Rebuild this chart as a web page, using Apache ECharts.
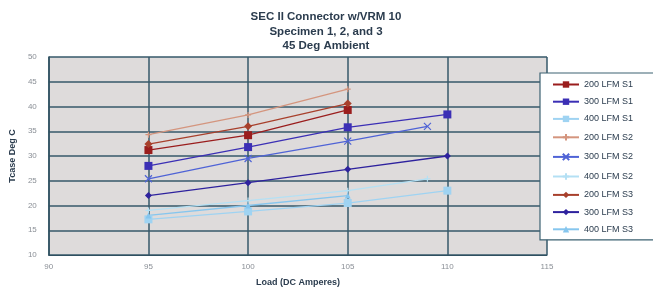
<!DOCTYPE html>
<html>
<head>
<meta charset="utf-8">
<script src="https://cdn.jsdelivr.net/npm/echarts@6/dist/echarts.min.js"></script>
<style>
  html, body { margin: 0; padding: 0; background: #fff; }
  #main { width: 653px; height: 292px; }
</style>
</head>
<body>
<div id="main"></div>
<script>
// titulo y ejes
var titleLines = ['SEC II Connector w/VRM 10', 'Specimen 1, 2, and 3', '45 Deg Ambient'];
var xName = 'Load (DC Amperes)';
var yName = 'Tcase Deg C';

// nombres de series
var seriesNames = [
    '200 LFM S1', '300 LFM S1', '400 LFM S1',
    '200 LFM S2', '300 LFM S2', '400 LFM S2',
    '200 LFM S3', '300 LFM S3', '400 LFM S3'
];

// carga (A)
var load_s1 = [95, 100, 105, 110];
var load_s2 = [95, 100, 105, 109];
var load_s3 = [95, 100, 105, 110];

// temperaturas
var t200_s1 = [31.2, 34.2, 39.3];
var t300_s1 = [28, 31.8, 35.8, 38.4];
var t400_s1 = [17.2, 18.8, 20.5, 23];
var t200_s2 = [34.3, 38.3, 43.5];
var t300_s2 = [25.4, 29.5, 33, 36];
var t400_s2 = [19, 21, 23, 25.4];
var t200_s3 = [32.4, 36, 40.6];
var t300_s3 = [22, 24.6, 27.3, 30];
var t400_s3 = [18, 20, 22];

var plus = 'path://M5,0L5,10M0,5L10,5';
var cross = 'path://M0,0L10,10M10,0L0,10';
var colors = ['#9a1d1d', '#3b2fb5', '#9fd3f2', '#d4957e', '#4f63d6', '#b4e0f4', '#a8402c', '#2e229e', '#86c6ee'];
var symbols = ['rect', 'rect', 'rect', plus, cross, plus, 'diamond', 'diamond', 'triangle'];
var sizes = [8, 8, 8, 6, 7, 6, 8, 7, 6];

function pairs(xs, ys){
    var out = [];
    for (var i = 0; i < ys.length; i++){
        out.push([xs[i], ys[i]]);
    }
    return out;
}

var allData = [
    pairs(load_s1, t200_s1), pairs(load_s1, t300_s1), pairs(load_s1, t400_s1),
    pairs(load_s2, t200_s2), pairs(load_s2, t300_s2), pairs(load_s2, t400_s2),
    pairs(load_s3, t200_s3), pairs(load_s3, t300_s3), pairs(load_s3, t400_s3)
];

var series = [];
seriesNames.forEach(function(name, i){
    var isPath = typeof symbols[i] === 'string' && symbols[i].indexOf('path://') === 0;
    series.push({
        name: name,
        type: 'line',
        data: allData[i],
        symbol: symbols[i],
        symbolSize: sizes[i],
        lineStyle: { color: colors[i], width: 1.3 },
        itemStyle: isPath ? { color: 'none', borderColor: colors[i], borderWidth: 1.2 } : { color: colors[i] },
        z: 3
    });
});

var chart = echarts.init(document.getElementById('main'));
var textColor = '#2b3c4e';
var option = {
    animation: false,
    title: {
        text: titleLines.join('\n'),
        left: 321,
        textAlign: 'center',
        top: 5,
        textStyle: { fontFamily: 'Liberation Sans', fontSize: 11.5, fontWeight: 'bold', color: textColor, lineHeight: 14.5 }
    },
    grid: { left: 41, right: 106, top: 57, bottom: 36, show: true, backgroundColor: '#dedbdb', borderWidth: 0 },
    legend: {
        orient: 'vertical',
        left: 540,
        top: 73,
        itemWidth: 26,
        itemHeight: 8,
        itemGap: 8.2,
        padding: [7, 30, 6, 12],
        backgroundColor: '#ffffff',
        borderColor: '#3d6272',
        borderWidth: 1.2,
        textStyle: { fontFamily: 'Liberation Sans', fontSize: 9, color: textColor },
        data: seriesNames
    },
    xAxis: {
        type: 'value',
        min: 90, max: 115, interval: 5,
        name: xName,
        nameLocation: 'middle',
        nameGap: 23,
        nameTextStyle: { fontFamily: 'Liberation Sans', fontSize: 9, fontWeight: 'bold', color: textColor },
        axisLine: { show: true, lineStyle: { color: '#2f5060' } },
        axisTick: { show: false },
        axisLabel: { fontFamily: 'Liberation Sans', fontSize: 8, color: '#8a8f96', margin: 8 },
        splitLine: { show: true, lineStyle: { color: '#36596a', width: 1.5 } }
    },
    yAxis: {
        type: 'value',
        min: 10, max: 50, interval: 5,
        name: yName,
        nameLocation: 'middle',
        nameGap: 26,
        nameTextStyle: { fontFamily: 'Liberation Sans', fontSize: 9, fontWeight: 'bold', color: textColor },
        axisLine: { show: true, lineStyle: { color: '#2f5060', width: 1.5 } },
        axisTick: { show: false },
        axisLabel: { fontFamily: 'Liberation Sans', fontSize: 8, color: '#8a8f96', margin: 12 },
        splitLine: { show: true, lineStyle: { color: '#36596a', width: 1.5 } }
    },
    series: series
};
chart.setOption(option);
</script>
</body>
</html>
